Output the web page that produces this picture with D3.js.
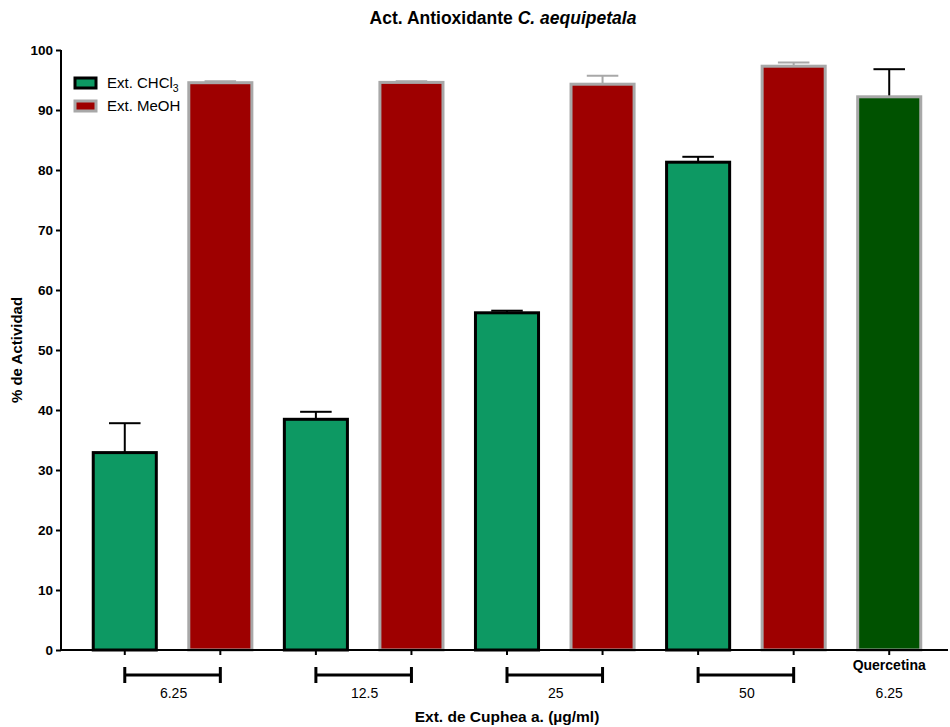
<!DOCTYPE html>
<html>
<head>
<meta charset="utf-8">
<script src="https://cdn.jsdelivr.net/npm/d3@7"></script>
<style>
  html, body { margin: 0; padding: 0; background: #fff; }
  svg { display: block; font-family: "Liberation Sans", Arial, sans-serif; }
</style>
</head>
<body>
<svg id="chart" width="950" height="727"></svg>
<script>
// Bar slots, in drawing order
const slots = ["c6.25", "m6.25", "c12.5", "m12.5", "c25", "m25", "c50", "m50", "q6.25"];
const series = ["chcl3", "meoh", "chcl3", "meoh", "chcl3", "meoh", "chcl3", "meoh", "querc"];
// Mean % activity per slot and upper error (SD)
const means = [32.9, 94.55, 38.45, 94.6, 56.2, 94.3, 81.3, 97.3, 92.2];
const errs  = [4.9, 0.25, 1.25, 0.2, 0.35, 1.4, 0.9, 0.6, 4.6];
// Concentration groups (pairs of slots) and their labels
const groups = [["c6.25", "m6.25"], ["c12.5", "m12.5"], ["c25", "m25"], ["c50", "m50"]];
const groupLabels = ["6.25", "12.5", "25", "50"];
const yTicks = [0, 10, 20, 30, 40, 50, 60, 70, 80, 90, 100];

const fills   = { chcl3: "#0d9963", meoh: "#9e0000", querc: "#005200" };
const strokes = { chcl3: "#000000", meoh: "#a8a8a8", querc: "#a8a8a8" };
const errCol  = { chcl3: "#000000", meoh: "#a8a8a8", querc: "#000000" };

const svg = d3.select("#chart");
const axisX0 = 61, axisX1 = 948, baseY = 650, topY = 50;

const x = d3.scalePoint().domain(slots).range([77, 937]).padding(0.5);
const step = x.step();
const bw = step * 0.66;
const y = d3.scaleLinear().domain([0, 100]).range([baseY, topY]);

// Title
const title = svg.append("text")
  .attr("x", 503).attr("y", 24).attr("text-anchor", "middle")
  .attr("font-size", 17.5).attr("font-weight", "bold");
title.append("tspan").text("Act. Antioxidante ");
title.append("tspan").attr("font-style", "italic").text("C. aequipetala");

// Bars
const bars = svg.append("g");
slots.forEach((s, i) => {
  const cx = x(s);
  const k = series[i];
  // error bar (upper only)
  bars.append("line")
    .attr("x1", cx).attr("x2", cx)
    .attr("y1", y(means[i])).attr("y2", y(means[i] + errs[i]))
    .attr("stroke", errCol[k]).attr("stroke-width", 2);
  bars.append("line")
    .attr("x1", cx - bw / 4).attr("x2", cx + bw / 4)
    .attr("y1", y(means[i] + errs[i])).attr("y2", y(means[i] + errs[i]))
    .attr("stroke", errCol[k]).attr("stroke-width", 2);
  bars.append("rect")
    .attr("x", cx - bw / 2).attr("width", bw)
    .attr("y", y(means[i])).attr("height", baseY - y(means[i]))
    .attr("fill", fills[k]).attr("stroke", strokes[k]).attr("stroke-width", 3);
});

// Y axis
const yAxis = svg.append("g").attr("transform", `translate(${axisX0},0)`)
  .call(d3.axisLeft(y).tickValues(yTicks).tickSize(5).tickPadding(3));
yAxis.select(".domain").attr("stroke", "#000").attr("stroke-width", 2)
  .attr("d", `M0,${baseY}V${topY}`);
yAxis.selectAll(".tick line").attr("stroke", "#000").attr("stroke-width", 2);
yAxis.selectAll(".tick text").attr("font-size", 13.5).attr("font-weight", "bold")
  .attr("fill", "#000").attr("font-family", "Liberation Sans, Arial, sans-serif");

// X axis baseline with a tick under every bar
const xAxis = svg.append("g");
xAxis.append("line").attr("x1", axisX0).attr("x2", axisX1)
  .attr("y1", baseY).attr("y2", baseY).attr("stroke", "#000").attr("stroke-width", 2);
slots.forEach(s => {
  xAxis.append("line").attr("x1", x(s)).attr("x2", x(s))
    .attr("y1", baseY).attr("y2", baseY + 5).attr("stroke", "#000").attr("stroke-width", 2);
});

// Group brackets and concentration labels
groups.forEach((g, i) => {
  const a = x(g[0]), b = x(g[1]);
  const by = 675;
  const gb = svg.append("g").attr("stroke", "#000").attr("stroke-width", 3);
  gb.append("line").attr("x1", a).attr("x2", b).attr("y1", by).attr("y2", by);
  gb.append("line").attr("x1", a).attr("x2", a).attr("y1", by - 8).attr("y2", by + 8);
  gb.append("line").attr("x1", b).attr("x2", b).attr("y1", by - 8).attr("y2", by + 8);
  svg.append("text").attr("x", (a + b) / 2 + 1).attr("y", 698)
    .attr("text-anchor", "middle").attr("font-size", 14).text(groupLabels[i]);
});
svg.append("text").attr("x", x("q6.25")).attr("y", 670)
  .attr("text-anchor", "middle").attr("font-size", 14).attr("font-weight", "bold").text("Quercetina");
svg.append("text").attr("x", x("q6.25")).attr("y", 698)
  .attr("text-anchor", "middle").attr("font-size", 14).text("6.25");

// Axis titles
svg.append("text").attr("x", 507).attr("y", 722).attr("text-anchor", "middle")
  .attr("font-size", 15.5).attr("font-weight", "bold").text("Ext. de Cuphea a. (\u00b5g/ml)");
svg.append("text").attr("transform", "translate(22,350) rotate(-90)")
  .attr("text-anchor", "middle").attr("font-size", 15).attr("font-weight", "bold")
  .text("% de Actividad");

// Legend
const legend = svg.append("g");
const legendItems = [
  { key: "chcl3", y: 83 },
  { key: "meoh", y: 106 }
];
legendItems.forEach(it => {
  legend.append("rect").attr("x", 75).attr("y", it.y - 5).attr("width", 21).attr("height", 10)
    .attr("fill", fills[it.key]).attr("stroke", strokes[it.key]).attr("stroke-width", 3);
});
const l1 = legend.append("text").attr("x", 107).attr("y", 88).attr("font-size", 15);
l1.append("tspan").text("Ext. CHCl");
l1.append("tspan").attr("font-size", 10.5).attr("dy", 4).text("3");
legend.append("text").attr("x", 107).attr("y", 111).attr("font-size", 15).text("Ext. MeOH");
</script>
</body>
</html>
